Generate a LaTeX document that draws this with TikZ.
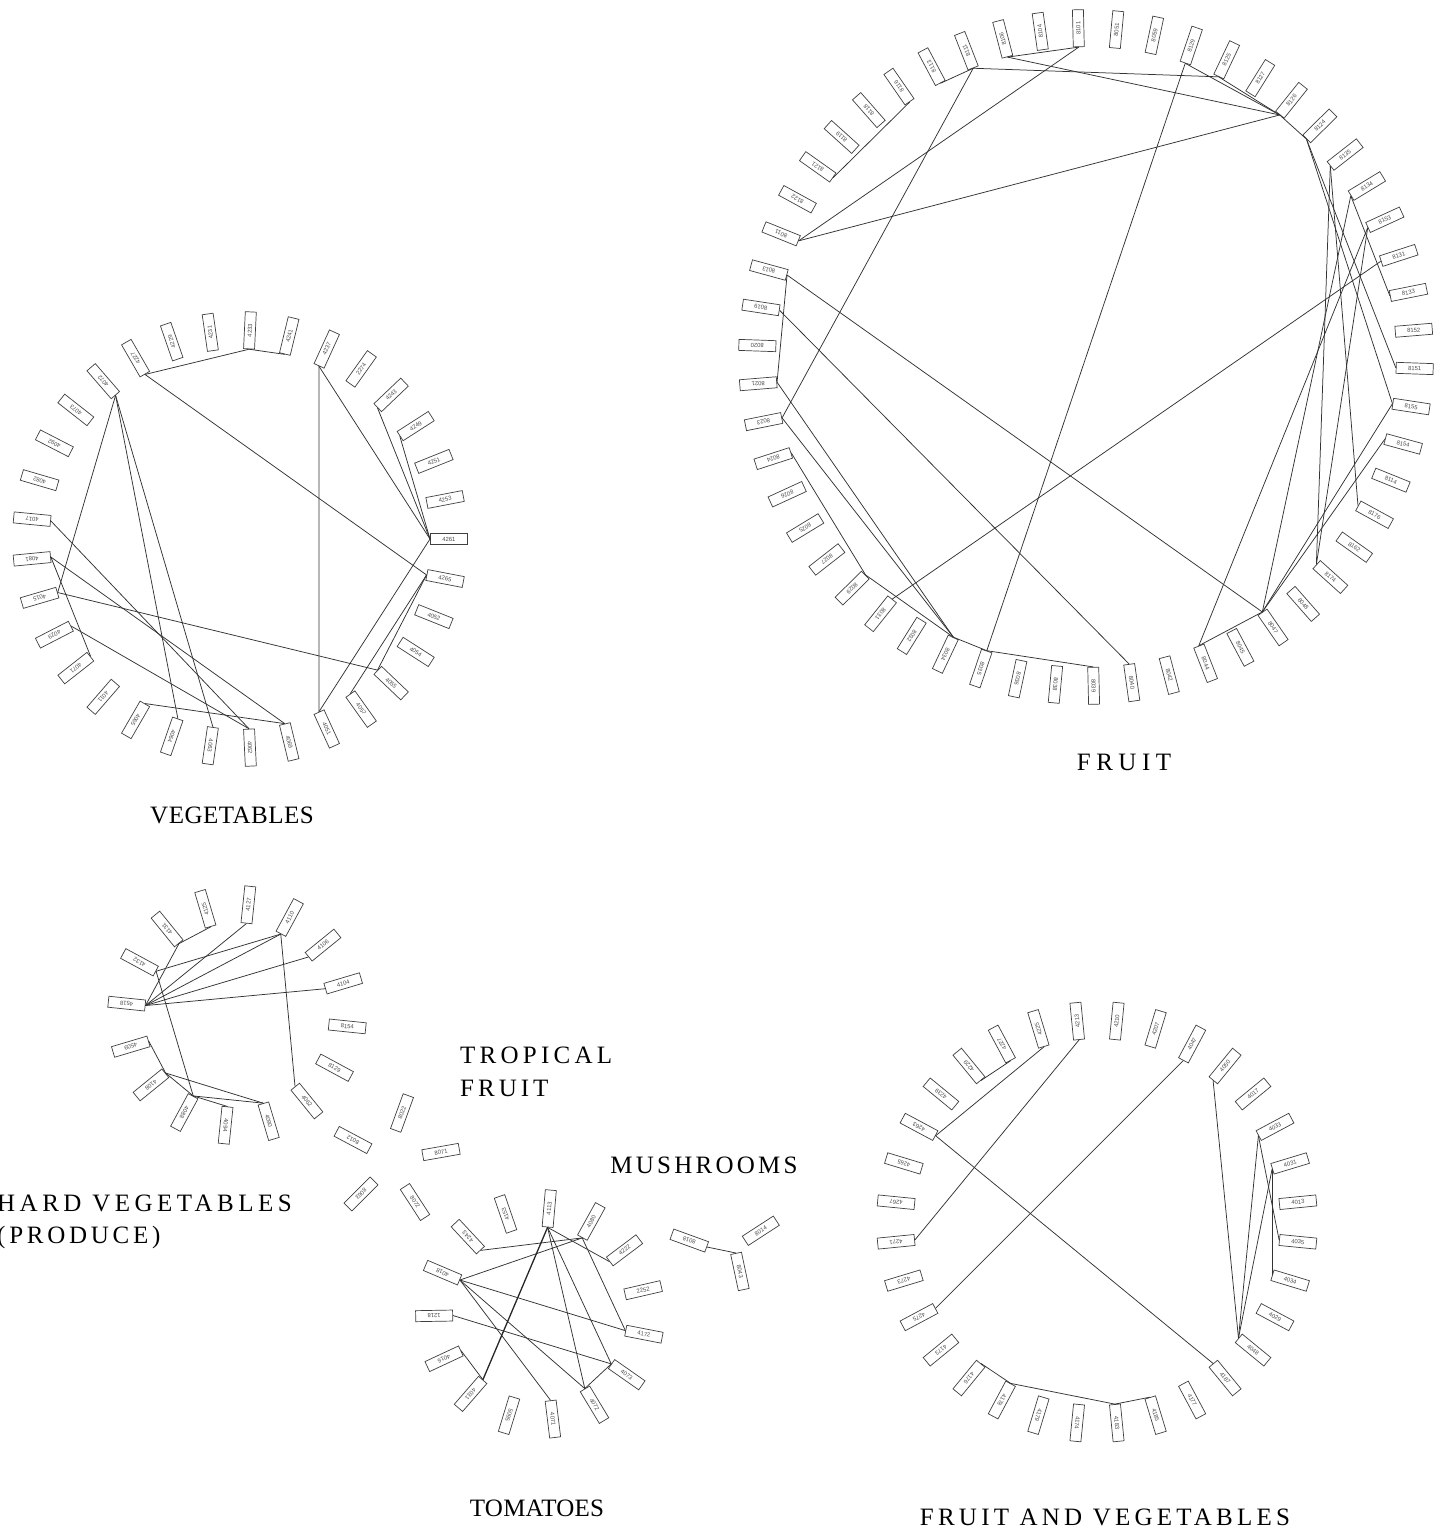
\documentclass[tikz,border=0pt]{standalone}
\usepackage{fontspec}
\setmainfont{Liberation Serif}
\newfontfamily\labfont{Liberation Sans}
\begin{document}
\begin{tikzpicture}[x=1pt,y=-1pt,
  lab/.style={draw=black!75, line width=0.7pt, minimum width=37pt, minimum height=11pt,
    inner sep=0pt, font=\labfont\fontsize{5.9}{5.9}\selectfont, text=black!70},
  link/.style={draw=black!80, line width=0.75pt},
  heavy/.style={draw=black!85, line width=1.3pt},
  title/.style={font=\fontsize{25}{25}\selectfont, inner sep=0pt, text=black},
]
\useasboundingbox[fill=white] (0,0) rectangle (1441,1534);

% ---------------- VEGETABLES ----------------
\foreach \t [count=\k from 0] in {4261,4253,4251,4249,4243,2274,4237,4241,4233,4231,4229,4227,4072,4073,4092,4082,4017,4081,4015,4029,4071,4011,4065,4064,4063,4062,4069,4051,4057,4055,4054,4052,4265} {
  \pgfmathsetmacro\ang{\k*(360/33)}
  \node[lab, rotate=\ang, anchor=west] (v\k) at ([shift={(\ang:190pt)}]240,539) {\t};
}
\foreach \i/\j in {11/8,8/7,12/18,12/23,12/24,11/32,16/25,17/20,17/26,18/29,19/25,22/26,6/27,6/0,4/0,3/0,0/27,32/28,32/29}
  \draw[link] (v\i.west) -- (v\j.west);
\node[title, font=\addfontfeature{LetterSpace=2}\fontsize{25}{25}\selectfont] (tveg) at (232,815) {VEGETABLES};

% ---------------- FRUIT ----------------
\foreach \t [count=\k from 0] in {8151,8152,8133,8131,8153,8134,8135,8124,8126,8127,8125,8129,8059,8051,8101,8104,8106,8111,8113,8116,8118,8119,8121,8122,8011,8013,8019,8020,8021,8023,8024,8026,8025,8027,8029,8031,8032,8034,8035,8036,8038,8039,8040,8042,8044,8045,8047,8048,8174,8162,8176,8114,8154,8155} {
  \pgfmathsetmacro\ang{-2+\k*(360/54)}
  \node[lab, rotate=\ang, anchor=west] (f\k) at ([shift={(\ang:310pt)}]1086,357) {\t};
}
\foreach \i/\j in {24/8,16/8,11/8,10/8,8/7,7/0,7/53,6/50,6/48,5/46,5/2,4/44,4/48,3/35,53/46,52/46,25/46,46/44,11/38,17/10,17/18,17/29,16/14,14/24,19/22,26/42,25/28,28/37,29/37,30/34,34/37,37/38,38/41}
  \draw[link] (f\i.west) -- (f\j.west);
\node[title, font=\addfontfeature{LetterSpace=22}\fontsize{25}{25}\selectfont] (tfru) at (1124,762) {FRUIT};

% ---------------- HARD VEGETABLES ----------------
\foreach \t [count=\k from 0] in {4104,4106,4110,4127,4125,4131,4132,4518,4509,4108,4088,4094,4090,4062,8129,8154} {
  \pgfmathsetmacro\ang{16.6+\k*22.5}
  \node[lab, rotate=\ang, anchor=west] (h\k) at ([shift={(\ang:92pt)}]237,1015) {\t};
}
\foreach \i/\j in {7/0,7/1,7/2,7/3,7/5,5/4,6/2,6/10,2/13,8/9,9/12,9/10,10/12,10/11}
  \draw[link] (h\i.west) -- (h\j.west);
\node[title, anchor=west, font=\addfontfeature{LetterSpace=18}\fontsize{25}{25}\selectfont] (thv1) at (-3,1203) {HARD VEGETABLES};
\node[title, anchor=west, font=\addfontfeature{LetterSpace=15}\fontsize{25}{25}\selectfont] (thv2) at (-3,1237) {(PRODUCE)};

% ---------------- TROPICAL FRUIT ----------------
\node[lab, rotate=152] (tr1) at (353,1140) {8012};
\node[lab, rotate=70] (tr2) at (402,1113) {8022};
\node[lab, rotate=10] (tr3) at (441,1152) {8071};
\node[lab, rotate=-135] (tr4) at (361,1194) {8063};
\node[lab, rotate=-57] (tr5) at (415,1202) {8072};
\node[title, anchor=west, font=\addfontfeature{LetterSpace=17}\fontsize{25}{25}\selectfont] (ttr1) at (460,1055) {TROPICAL};
\node[title, anchor=west, font=\addfontfeature{LetterSpace=16}\fontsize{25}{25}\selectfont] (ttr2) at (460,1088) {FRUIT};

% ---------------- TOMATOES ----------------
\foreach \t [count=\k from 0] in {4113,4153,4243,4018,1218,4016,4031,5095,4071,4072,4073,4172,2252,4222,4080} {
  \pgfmathsetmacro\ang{85+\k*24}
  \node[lab, rotate=\ang, anchor=west] (t\k) at ([shift={(\ang:87pt)}]540,1314) {\t};
}
\foreach \i/\j in {3/11,3/9,3/8,4/10,3/14,2/14,14/11,0/9,0/10,0/13,5/6,10/9}
  \draw[link] (t\i.west) -- (t\j.west);
\draw[heavy] (t0.west) -- (t6.west);
\node[title, font=\addfontfeature{LetterSpace=1}\fontsize{25}{25}\selectfont] (ttom) at (537,1508) {TOMATOES};

% ---------------- MUSHROOMS ----------------
\node[lab, rotate=160, anchor=west] (m1) at (707,1247) {8018};
\node[lab, rotate=33, anchor=west] (m2) at (745,1241) {8014};
\node[lab, rotate=-78, anchor=west] (m3) at (736,1253) {8043};
\draw[link] (m1.west) -- (m3.west);
\node[title, font=\addfontfeature{LetterSpace=13}\fontsize{25}{25}\selectfont] (tmus) at (704,1165) {MUSHROOMS};

% ---------------- FRUIT AND VEGETABLES ----------------
\foreach \t [count=\k from 0] in {4013,4031,4033,4017,4050,4047,4207,4210,4213,4225,4227,4229,4239,4263,4265,4267,4271,4273,4275,4173,4176,4178,4179,4174,4183,4185,4177,4187,4048,4029,4034,4035} {
  \pgfmathsetmacro\ang{5.625+\k*11.25}
  \node[lab, rotate=\ang, anchor=west] (g\k) at ([shift={(\ang:183pt)}]1097,1222) {\t};
}
\foreach \i/\j in {8/16,9/13,13/27,10/11,18/5,20/21,21/24,24/25,4/28,2/28,2/31,1/28,1/30}
  \draw[link] (g\i.west) -- (g\j.west);
\node[title, font=\addfontfeature{LetterSpace=17}\fontsize{25}{25}\selectfont] (tfv) at (1105,1517) {FRUIT AND VEGETABLES};
\end{tikzpicture}
\end{document}
